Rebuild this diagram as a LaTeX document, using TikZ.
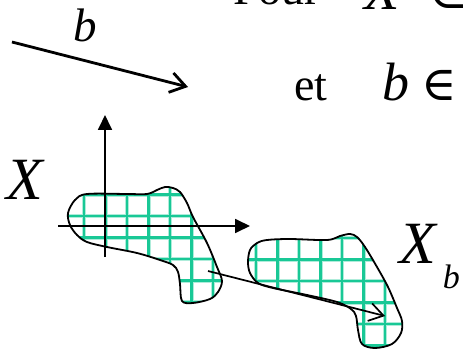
\documentclass[tikz,border=0pt]{standalone}
\usepackage{fontspec}
\setmainfont{Liberation Serif}
\newfontfamily\symbfont{DejaVu Serif}
\usetikzlibrary{arrows.meta}
\definecolor{cGrid}{RGB}{25,200,150}

\begin{document}
\begin{tikzpicture}[x=1pt, y=-1pt,
    outline/.style={line width=1.8pt, line join=round},
    gridline/.style={cGrid, line width=2.3pt},
    gridhalo/.style={cGrid!35, line width=4pt},
    axis/.style={line width=1.8pt, -{Triangle[length=15pt, width=14pt]}},
    txt/.style={inner sep=0pt, anchor=base west}]
  \useasboundingbox (0,0) rectangle (463,350);

  \def\blobone{plot[smooth cycle, tension=0.55] coordinates {
      (68,213) (75,200) (87,194) (127,194) (147,194) (157,190) (165,187)
      (173,188) (180,192) (187,203) (193,217) (207,243) (217,267) (222,281)
      (218,292) (210,299) (193,303) (182,301) (180,284) (178,272) (173,265)
      (160,260) (137,253) (107,247) (87,242) (77,235) (70,225)}}
  \def\blobtwo{plot[smooth cycle, tension=0.55] coordinates {
      (248,262) (250,250) (257,243) (267,240) (290,239) (327,240) (340,236)
      (350,234) (357,237) (365,247) (377,267) (388,287) (397,308) (402,321)
      (401,333) (392,344) (375,348) (362,344) (358,330) (356,316) (351,309)
      (337,302) (307,295) (273,288) (258,283) (250,273)}}

  % squared fill of both sets
  \begin{scope}
    \clip \blobone;
    \foreach \k in {0,...,7} {
      \draw[gridhalo] ({84+\k*21.5},180) -- ({84+\k*21.5},310);
      \draw[gridhalo] (60,{194.5+\k*21.5}) -- (230,{194.5+\k*21.5});
    }
    \foreach \k in {0,...,7} {
      \draw[gridline] ({84+\k*21.5},180) -- ({84+\k*21.5},310);
      \draw[gridline] (60,{194.5+\k*21.5}) -- (230,{194.5+\k*21.5});
    }
  \end{scope}
  \begin{scope}
    \clip \blobtwo;
    \foreach \k in {0,...,7} {
      \draw[gridhalo] ({256+\k*21.5},225) -- ({256+\k*21.5},355);
      \draw[gridhalo] (240,{238+\k*21.5}) -- (410,{238+\k*21.5});
    }
    \foreach \k in {0,...,7} {
      \draw[gridline] ({256+\k*21.5},225) -- ({256+\k*21.5},355);
      \draw[gridline] (240,{238+\k*21.5}) -- (410,{238+\k*21.5});
    }
  \end{scope}
  \draw[outline] \blobone;
  \draw[outline] \blobtwo;

  \coordinate (ybot) at (105,257);
  \coordinate (ytop) at (105,115);
  \coordinate (xleft) at (58,226);
  \coordinate (xright) at (250,226);
  \draw[axis] (ybot) -- (ytop);
  \draw[axis] (xleft) -- (xright);

  \coordinate (bfrom) at (12,42);
  \coordinate (bto) at (188,87);
  \draw[line width=2.8pt, -{Straight Barb[length=15pt, width=20pt]}] (bfrom) -- (bto);
  \coordinate (tfrom) at (208,271);
  \coordinate (tto) at (385,316);
  \draw[line width=1.7pt, -{Straight Barb[length=14pt, width=18pt]}] (tfrom) -- (tto);

  \node[txt, font=\fontsize{47}{47}\selectfont\itshape] (blabel) at (73,42) {b};
  \node[inner sep=0pt, font=\fontsize{60}{60}\selectfont\itshape] (xlabel) at (25,180) {X};
  \node[txt, font=\fontsize{60}{60}\selectfont\itshape] (xblabel) at (399,263)
       {X\kern7pt\raisebox{-25pt}{\fontsize{34}{34}\selectfont b}};

  \node[txt, font=\fontsize{46}{46}\selectfont] (pour) at (233,5) {Pour};
  \node[txt, font=\fontsize{58}{58}\selectfont\itshape] (xtop) at (364,10) {X};
  \node[txt, font=\fontsize{48}{48}\selectfont\symbfont] (subs) at (428,9) {⊂};
  \node[txt, font=\fontsize{46}{46}\selectfont] (et) at (294,101) {et};
  \node[txt, font=\fontsize{54}{54}\selectfont\itshape] (btxt) at (382,101) {b};
  \node[txt, font=\fontsize{48}{48}\selectfont\symbfont] (inb) at (421,101) {∈};
\end{tikzpicture}
\end{document}
